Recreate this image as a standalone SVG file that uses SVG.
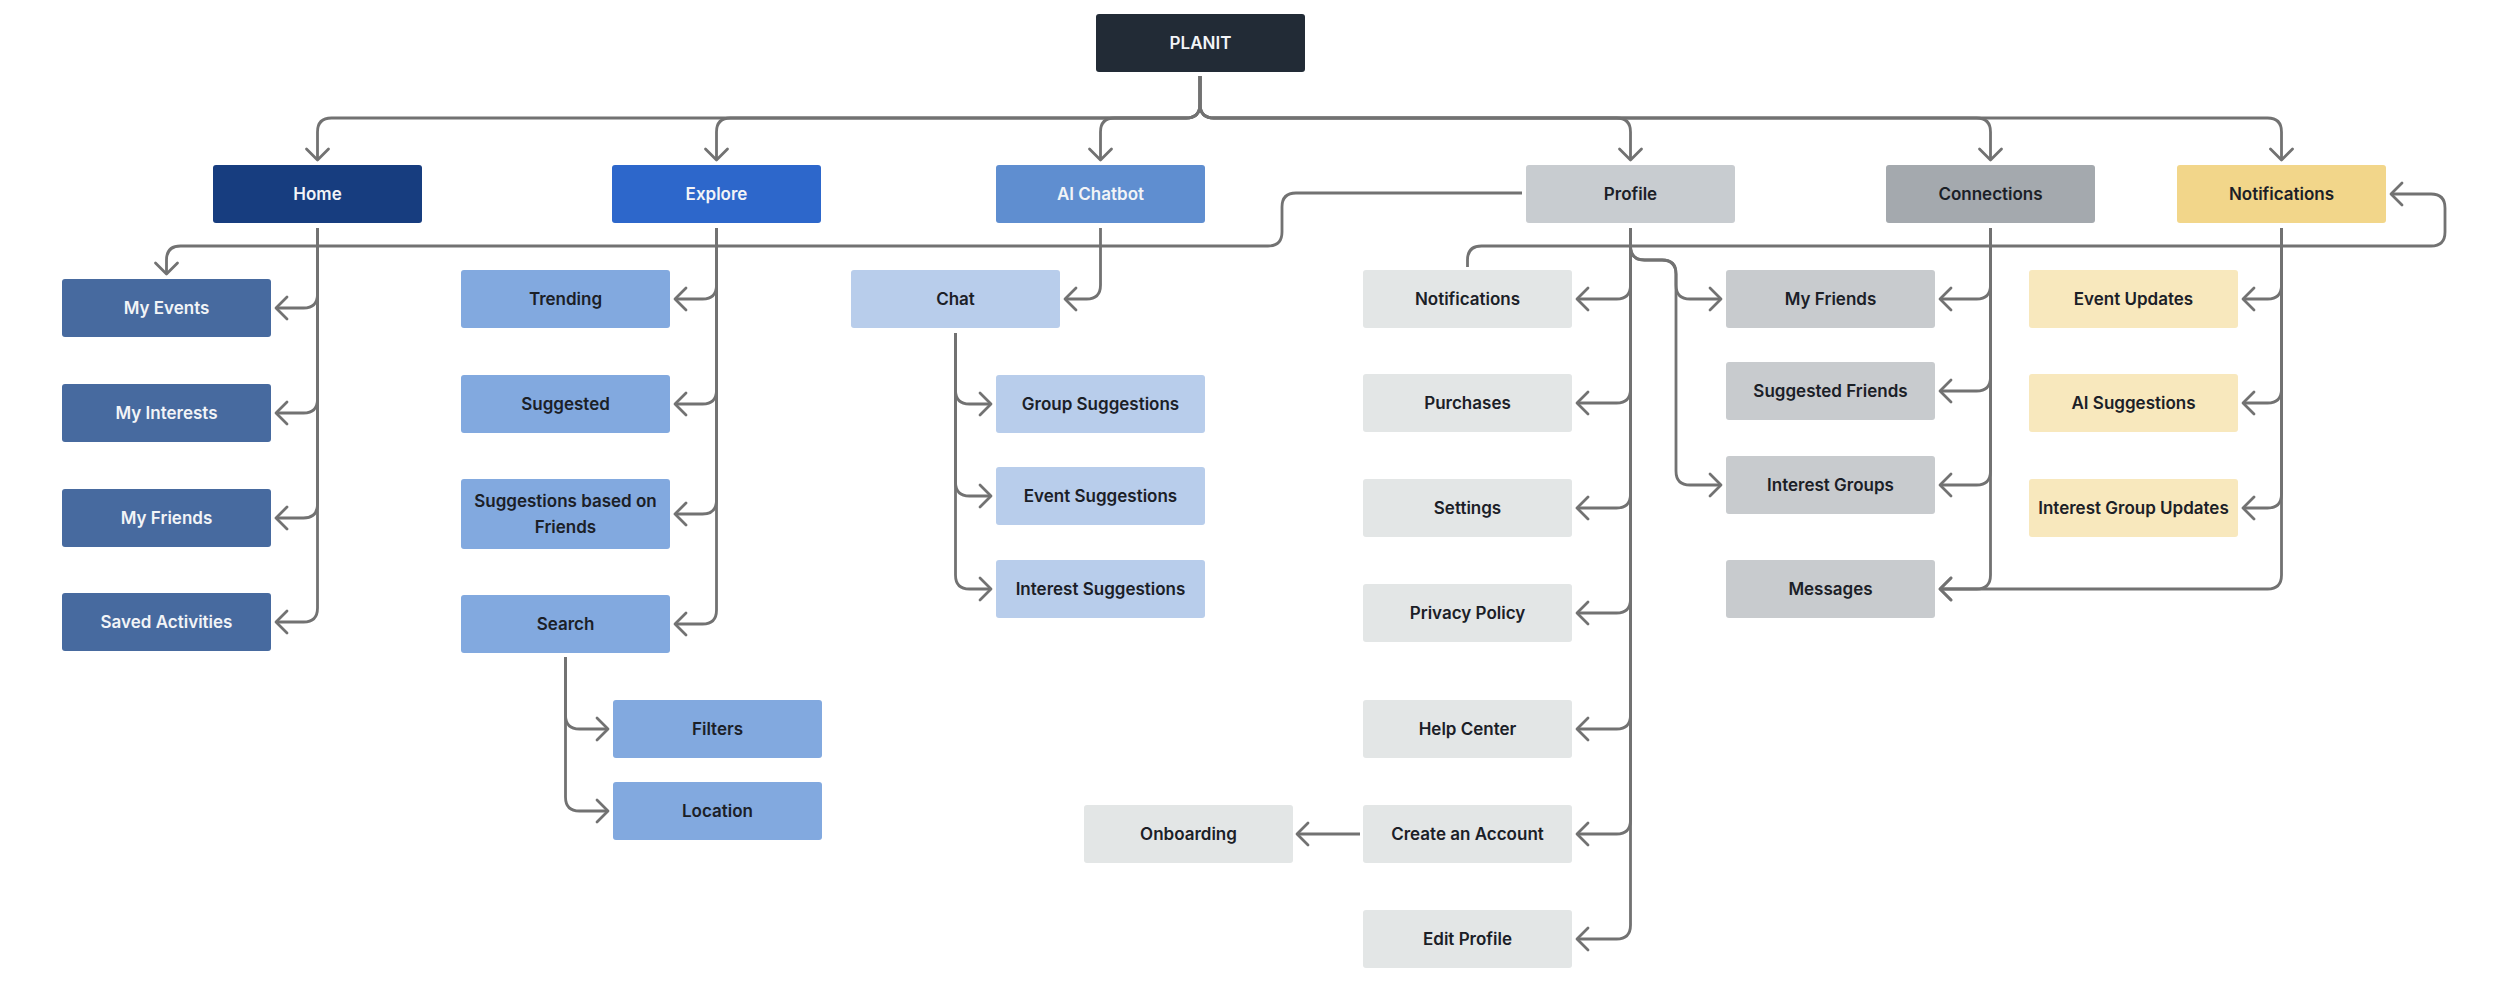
<svg xmlns="http://www.w3.org/2000/svg" width="2500" height="1002" viewBox="0 0 2500 1002">
<defs>
<style>
.n rect{rx:3;ry:3}
.t{font-family:Inter,"Liberation Sans",sans-serif;font-weight:600;font-size:17px;text-anchor:middle;dominant-baseline:central}
.lt{fill:#f2f4f7}
.dt{fill:#1b2027}
.c path{fill:none;stroke:#727272;stroke-width:2.8;stroke-linejoin:round}
.a{marker-end:url(#ah)}
.root{fill:#222b36}.home{fill:#173d7f}.explore{fill:#2d67cb}.ai{fill:#5f8ed0}.prof{fill:#c8ccd0}.conn{fill:#a4a9ae}.notif{fill:#f2d68a}
.hc{fill:#476a9f}.ec{fill:#82a9df}.cc{fill:#b8cdeb}.pc{fill:#e3e6e6}.kc{fill:#c8cbce}.nc{fill:#f8e8bd}
</style>
<marker id="ah" viewBox="-14 -14 18 28" refX="0" refY="0" markerWidth="18" markerHeight="28" orient="auto" markerUnits="userSpaceOnUse">
<path d="M-11,-11 L0,0 L-11,11" fill="none" stroke="#727272" stroke-width="2.8" stroke-linecap="round" stroke-linejoin="round"/>
</marker>
</defs>
<rect width="2500" height="1002" fill="#ffffff"/>

<g id="connectors" class="c">
<path class="a" d="M1200,76 V104 Q1200,118 1186,118 H331.5 Q317.5,118 317.5,132 V160"/>
<path class="a" d="M1200,76 V104 Q1200,118 1186,118 H730.5 Q716.5,118 716.5,132 V160"/>
<path class="a" d="M1200,76 V104 Q1200,118 1186,118 H1114.5 Q1100.5,118 1100.5,132 V160"/>
<path class="a" d="M1200,76 V104 Q1200,118 1214,118 H1616.5 Q1630.5,118 1630.5,132 V160"/>
<path class="a" d="M1200,76 V104 Q1200,118 1214,118 H1976.5 Q1990.5,118 1990.5,132 V160"/>
<path class="a" d="M1200,76 V104 Q1200,118 1214,118 H2267.5 Q2281.5,118 2281.5,132 V160"/>

<path class="a" d="M317.5,228 V294 Q317.5,308 303.5,308 H276"/>
<path class="a" d="M317.5,228 V399 Q317.5,413 303.5,413 H276"/>
<path class="a" d="M317.5,228 V504 Q317.5,518 303.5,518 H276"/>
<path class="a" d="M317.5,228 V608 Q317.5,622 303.5,622 H276"/>

<path class="a" d="M716.5,228 V285 Q716.5,299 702.5,299 H675"/>
<path class="a" d="M716.5,228 V390 Q716.5,404 702.5,404 H675"/>
<path class="a" d="M716.5,228 V500 Q716.5,514 702.5,514 H675"/>
<path class="a" d="M716.5,228 V610 Q716.5,624 702.5,624 H675"/>

<path class="a" d="M565.5,657 V715 Q565.5,729 579.5,729 H608"/>
<path class="a" d="M565.5,657 V797 Q565.5,811 579.5,811 H608"/>

<path class="a" d="M1100.5,228 V285 Q1100.5,299 1086.5,299 H1065"/>

<path class="a" d="M955.5,333 V390 Q955.5,404 969.5,404 H991"/>
<path class="a" d="M955.5,333 V482 Q955.5,496 969.5,496 H991"/>
<path class="a" d="M955.5,333 V575 Q955.5,589 969.5,589 H991"/>

<path class="a" d="M1630.5,228 V285 Q1630.5,299 1616.5,299 H1577"/>
<path class="a" d="M1630.5,228 V389 Q1630.5,403 1616.5,403 H1577"/>
<path class="a" d="M1630.5,228 V494 Q1630.5,508 1616.5,508 H1577"/>
<path class="a" d="M1630.5,228 V599 Q1630.5,613 1616.5,613 H1577"/>
<path class="a" d="M1630.5,228 V715 Q1630.5,729 1616.5,729 H1577"/>
<path class="a" d="M1630.5,228 V820 Q1630.5,834 1616.5,834 H1577"/>
<path class="a" d="M1630.5,228 V925 Q1630.5,939 1616.5,939 H1577"/>

<path class="a" d="M1630.5,228 V246 Q1630.5,260 1644.5,260 H1662 Q1676,260 1676,274 V285 Q1676,299 1690,299 H1721"/>
<path class="a" d="M1630.5,228 V246 Q1630.5,260 1644.5,260 H1662 Q1676,260 1676,274 V471 Q1676,485 1690,485 H1721"/>

<path class="a" d="M1360,834 H1297"/>

<path class="a" d="M1522,193 H1296 Q1282,193 1282,207 V232 Q1282,246 1268,246 H180.5 Q166.5,246 166.5,260 V274"/>

<path class="a" d="M1467.5,267 V260 Q1467.5,246 1481.5,246 H2431 Q2445,246 2445,232 V208 Q2445,194 2431,194 H2391"/>

<path class="a" d="M1990.5,228 V285 Q1990.5,299 1976.5,299 H1940"/>
<path class="a" d="M1990.5,228 V377 Q1990.5,391 1976.5,391 H1940"/>
<path class="a" d="M1990.5,228 V471 Q1990.5,485 1976.5,485 H1940"/>
<path class="a" d="M1990.5,228 V575 Q1990.5,589 1976.5,589 H1940"/>

<path class="a" d="M2281.5,228 V285 Q2281.5,299 2267.5,299 H2243"/>
<path class="a" d="M2281.5,228 V389 Q2281.5,403 2267.5,403 H2243"/>
<path class="a" d="M2281.5,228 V494 Q2281.5,508 2267.5,508 H2243"/>
<path class="a" d="M2281.5,228 V575 Q2281.5,589 2267.5,589 H1940"/>
</g>

<g id="planit" class="n"><rect class="root" x="1096" y="14" width="209" height="58"/><text class="t lt" x="1200.5" y="43">PLANIT</text></g>

<g id="home" class="n"><rect class="home" x="213" y="165" width="209" height="58"/><text class="t lt" x="317.5" y="194">Home</text></g>
<g id="explore" class="n"><rect class="explore" x="612" y="165" width="209" height="58"/><text class="t lt" x="716.5" y="194">Explore</text></g>
<g id="ai-chatbot" class="n"><rect class="ai" x="996" y="165" width="209" height="58"/><text class="t lt" x="1100.5" y="194">AI Chatbot</text></g>
<g id="profile" class="n"><rect class="prof" x="1526" y="165" width="209" height="58"/><text class="t dt" x="1630.5" y="194">Profile</text></g>
<g id="connections" class="n"><rect class="conn" x="1886" y="165" width="209" height="58"/><text class="t dt" x="1990.5" y="194">Connections</text></g>
<g id="notifications" class="n"><rect class="notif" x="2177" y="165" width="209" height="58"/><text class="t dt" x="2281.5" y="194">Notifications</text></g>

<g id="my-events" class="n"><rect class="hc" x="62" y="279" width="209" height="58"/><text class="t lt" x="166.5" y="308">My Events</text></g>
<g id="my-interests" class="n"><rect class="hc" x="62" y="384" width="209" height="58"/><text class="t lt" x="166.5" y="413">My Interests</text></g>
<g id="my-friends-home" class="n"><rect class="hc" x="62" y="489" width="209" height="58"/><text class="t lt" x="166.5" y="518">My Friends</text></g>
<g id="saved-activities" class="n"><rect class="hc" x="62" y="593" width="209" height="58"/><text class="t lt" x="166.5" y="622">Saved Activities</text></g>

<g id="trending" class="n"><rect class="ec" x="461" y="270" width="209" height="58"/><text class="t dt" x="565.5" y="299">Trending</text></g>
<g id="suggested" class="n"><rect class="ec" x="461" y="375" width="209" height="58"/><text class="t dt" x="565.5" y="404">Suggested</text></g>
<g id="suggestions-friends" class="n"><rect class="ec" x="461" y="479" width="209" height="70"/><text class="t dt" x="565.5" y="501">Suggestions based on</text><text class="t dt" x="565.5" y="527">Friends</text></g>
<g id="search" class="n"><rect class="ec" x="461" y="595" width="209" height="58"/><text class="t dt" x="565.5" y="624">Search</text></g>
<g id="filters" class="n"><rect class="ec" x="613" y="700" width="209" height="58"/><text class="t dt" x="717.5" y="729">Filters</text></g>
<g id="location" class="n"><rect class="ec" x="613" y="782" width="209" height="58"/><text class="t dt" x="717.5" y="811">Location</text></g>

<g id="chat" class="n"><rect class="cc" x="851" y="270" width="209" height="58"/><text class="t dt" x="955.5" y="299">Chat</text></g>
<g id="group-suggestions" class="n"><rect class="cc" x="996" y="375" width="209" height="58"/><text class="t dt" x="1100.5" y="404">Group Suggestions</text></g>
<g id="event-suggestions" class="n"><rect class="cc" x="996" y="467" width="209" height="58"/><text class="t dt" x="1100.5" y="496">Event Suggestions</text></g>
<g id="interest-suggestions" class="n"><rect class="cc" x="996" y="560" width="209" height="58"/><text class="t dt" x="1100.5" y="589">Interest Suggestions</text></g>

<g id="profile-notifications" class="n"><rect class="pc" x="1363" y="270" width="209" height="58"/><text class="t dt" x="1467.5" y="299">Notifications</text></g>
<g id="purchases" class="n"><rect class="pc" x="1363" y="374" width="209" height="58"/><text class="t dt" x="1467.5" y="403">Purchases</text></g>
<g id="settings" class="n"><rect class="pc" x="1363" y="479" width="209" height="58"/><text class="t dt" x="1467.5" y="508">Settings</text></g>
<g id="privacy-policy" class="n"><rect class="pc" x="1363" y="584" width="209" height="58"/><text class="t dt" x="1467.5" y="613">Privacy Policy</text></g>
<g id="help-center" class="n"><rect class="pc" x="1363" y="700" width="209" height="58"/><text class="t dt" x="1467.5" y="729">Help Center</text></g>
<g id="create-account" class="n"><rect class="pc" x="1363" y="805" width="209" height="58"/><text class="t dt" x="1467.5" y="834">Create an Account</text></g>
<g id="edit-profile" class="n"><rect class="pc" x="1363" y="910" width="209" height="58"/><text class="t dt" x="1467.5" y="939">Edit Profile</text></g>
<g id="onboarding" class="n"><rect class="pc" x="1084" y="805" width="209" height="58"/><text class="t dt" x="1188.5" y="834">Onboarding</text></g>

<g id="my-friends" class="n"><rect class="kc" x="1726" y="270" width="209" height="58"/><text class="t dt" x="1830.5" y="299">My Friends</text></g>
<g id="suggested-friends" class="n"><rect class="kc" x="1726" y="362" width="209" height="58"/><text class="t dt" x="1830.5" y="391">Suggested Friends</text></g>
<g id="interest-groups" class="n"><rect class="kc" x="1726" y="456" width="209" height="58"/><text class="t dt" x="1830.5" y="485">Interest Groups</text></g>
<g id="messages" class="n"><rect class="kc" x="1726" y="560" width="209" height="58"/><text class="t dt" x="1830.5" y="589">Messages</text></g>

<g id="event-updates" class="n"><rect class="nc" x="2029" y="270" width="209" height="58"/><text class="t dt" x="2133.5" y="299">Event Updates</text></g>
<g id="ai-suggestions" class="n"><rect class="nc" x="2029" y="374" width="209" height="58"/><text class="t dt" x="2133.5" y="403">AI Suggestions</text></g>
<g id="interest-group-updates" class="n"><rect class="nc" x="2029" y="479" width="209" height="58"/><text class="t dt" x="2133.5" y="508">Interest Group Updates</text></g>
</svg>
